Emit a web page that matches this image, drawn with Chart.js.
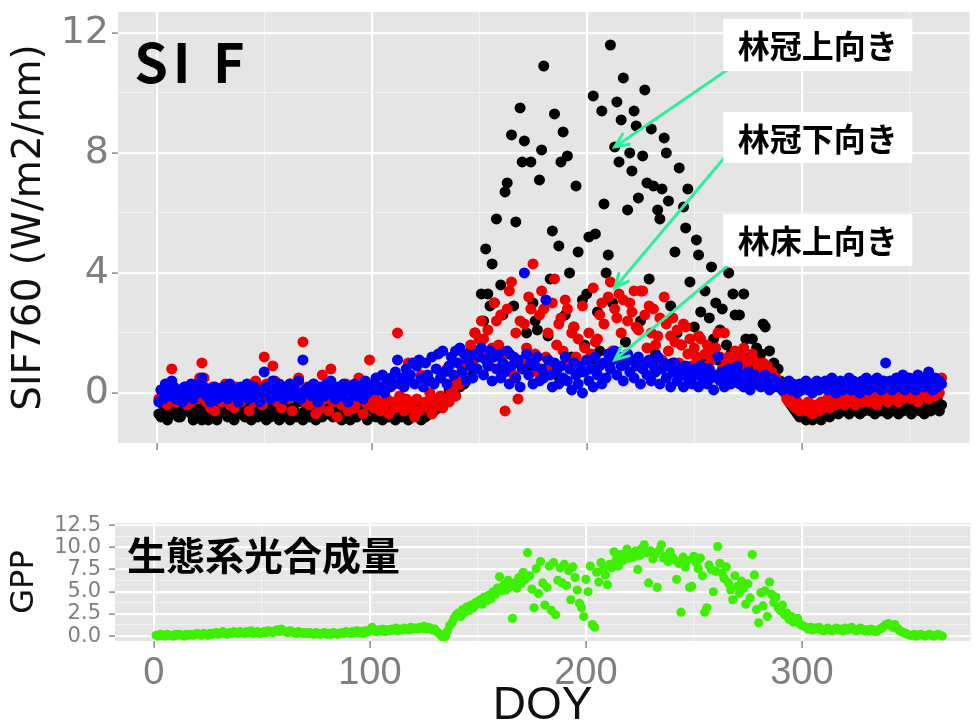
<!DOCTYPE html>
<html lang="ja">
<head>
<meta charset="UTF-8">
<title>SIF760 and GPP by DOY</title>
<script src="https://cdn.jsdelivr.net/npm/chart.js@4.4.1/dist/chart.umd.min.js"></script>
<style>
  html, body { margin: 0; padding: 0; background: #fff; width: 975px; height: 721px; overflow: hidden; }
  canvas { position: absolute; left: 0; }
  #sifChart { top: 0; }
  #gppChart { top: 500px; }
</style>
</head>
<body>
<canvas id="sifChart" width="975" height="455"></canvas>
<canvas id="gppChart" width="975" height="240"></canvas>
<script>
// day of year, one value per day in every series below
const doy = [
  1,2,3,4,5,6,7,8,9,10,11,12,13,14,15,16,17,18,19,20,
  21,22,23,24,25,26,27,28,29,30,31,32,33,34,35,36,37,38,39,40,
  41,42,43,44,45,46,47,48,49,50,51,52,53,54,55,56,57,58,59,60,
  61,62,63,64,65,66,67,68,69,70,71,72,73,74,75,76,77,78,79,80,
  81,82,83,84,85,86,87,88,89,90,91,92,93,94,95,96,97,98,99,100,
  101,102,103,104,105,106,107,108,109,110,111,112,113,114,115,116,117,118,119,120,
  121,122,123,124,125,126,127,128,129,130,131,132,133,134,135,136,137,138,139,140,
  141,142,143,144,145,146,147,148,149,150,151,152,153,154,155,156,157,158,159,160,
  161,162,163,164,165,166,167,168,169,170,171,172,173,174,175,176,177,178,179,180,
  181,182,183,184,185,186,187,188,189,190,191,192,193,194,195,196,197,198,199,200,
  201,202,203,204,205,206,207,208,209,210,211,212,213,214,215,216,217,218,219,220,
  221,222,223,224,225,226,227,228,229,230,231,232,233,234,235,236,237,238,239,240,
  241,242,243,244,245,246,247,248,249,250,251,252,253,254,255,256,257,258,259,260,
  261,262,263,264,265,266,267,268,269,270,271,272,273,274,275,276,277,278,279,280,
  281,282,283,284,285,286,287,288,289,290,291,292,293,294,295,296,297,298,299,300,
  301,302,303,304,305,306,307,308,309,310,311,312,313,314,315,316,317,318,319,320,
  321,322,323,324,325,326,327,328,329,330,331,332,333,334,335,336,337,338,339,340,
  341,342,343,344,345,346,347,348,349,350,351,352,353,354,355,356,357,358,359,360,
  361,362,363,364,365
];

// SIF760, canopy looking up (black)
const sifCanopyUp = [
  -0.7,-0.8,-0.4,-0.6,-0.9,-0.5,-0.3,-0.7,-0.6,-0.8,
  -0.8,-0.4,-0.6,-0.3,-0.5,-0.7,-0.9,-0.6,-0.4,-0.8,
  -0.9,-0.6,-0.5,-0.9,-0.7,-0.4,-0.8,-0.9,-0.6,-0.3,
  -0.5,-0.7,-0.8,-0.4,-0.6,-0.9,-0.5,-0.7,-0.3,-0.6,
  -0.8,-0.5,-0.7,-0.9,-0.4,-0.6,-0.8,-0.5,-0.3,-0.7,
  -0.9,-0.6,-0.8,-0.4,-0.7,-0.5,-0.9,-0.6,-0.8,-0.4,
  -0.7,-0.9,-0.5,-0.6,-0.8,-0.3,-0.7,-0.9,-0.6,-0.5,
  -0.8,-0.4,-0.6,-0.9,-0.7,-0.5,-0.8,-0.6,-0.4,-0.7,
  -0.5,-0.8,-0.6,-0.3,-0.7,-0.9,-0.5,-0.6,-0.8,-0.9,
  -0.4,-0.6,-0.8,-0.5,-0.7,-0.3,-0.6,-0.9,-0.5,-0.4,
  -0.6,-0.8,-0.5,-0.7,-0.9,-0.4,-0.6,-0.8,-0.5,-0.7,
  -0.9,-0.6,-0.4,-0.8,-0.7,-0.5,-0.9,-0.6,-0.8,-0.4,
  -0.7,-0.5,-0.9,-0.6,-0.8,-0.4,-0.7,-0.5,-0.6,-0.3,
  -0.5,-0.4,-0.2,-0.3,-0.1,0.1,0.0,0.3,-0.1,0.4,
  0.2,0.6,0.3,1.0,0.5,1.4,0.8,2.0,1.2,1.8,
  3.3,2.4,4.8,3.3,2.9,4.3,3.0,5.8,1.5,3.6,
  2.6,6.7,7.0,1.3,8.6,2.9,5.7,1.0,9.5,7.7,
  8.4,2.0,0.9,7.7,3.0,2.4,2.1,7.1,8.1,10.9,
  0.8,1.9,3.8,5.4,9.3,0.6,4.9,7.7,8.7,2.6,
  7.9,4.0,1.2,2.2,6.9,4.7,0.7,3.1,1.6,3.3,
  5.2,1.1,9.9,5.3,2.7,1.4,9.4,6.3,4.0,4.6,
  11.6,3.0,8.2,9.7,7.7,9.1,10.5,1.7,6.1,8.0,
  7.4,9.4,8.9,6.5,2.4,7.9,10.1,7.0,3.8,8.8,
  6.9,1.3,6.1,5.8,6.8,8.5,8.0,6.4,2.9,1.0,
  4.7,2.0,7.5,1.6,6.2,5.5,6.8,3.7,0.9,2.2,
  5.1,4.6,2.7,1.2,3.4,0.8,2.5,4.2,1.8,3.0,
  1.1,2.1,2.8,0.9,1.6,4.0,1.3,3.3,2.6,0.7,
  2.6,1.0,3.3,1.8,0.8,1.2,1.8,0.6,1.5,0.9,
  1.3,2.3,2.2,0.5,1.4,0.7,1.0,0.3,0.8,0.4,
  0.2,0.3,0.0,-0.2,-0.4,-0.5,-0.6,-0.7,-0.8,-0.6,
  -0.8,-0.9,-0.7,-0.8,-0.9,-0.6,-0.8,-0.7,-0.9,-0.5,
  -0.7,-0.6,-0.8,-0.4,-0.6,-0.5,-0.7,-0.3,-0.6,-0.5,
  -0.4,-0.7,-0.5,-0.6,-0.3,-0.5,-0.7,-0.4,-0.6,-0.5,
  -0.3,-0.6,-0.4,-0.7,-0.5,-0.3,-0.6,-0.4,-0.5,-0.7,
  -0.4,-0.6,-0.3,-0.5,-0.7,-0.4,-0.6,-0.5,-0.3,-0.6,
  -0.7,-0.4,-0.5,-0.3,-0.6,-0.4,-0.7,-0.5,-0.3,-0.6,
  -0.4,-0.5,-0.2,-0.6,-0.4
];

// SIF760, canopy looking down (red)
const sifCanopyDown = [
  -0.2,0.1,-0.3,0.0,-0.4,0.2,0.8,-0.1,-0.3,0.1,
  0.0,-0.2,0.2,-0.4,0.1,-0.3,0.0,0.3,-0.2,0.5,
  1.0,0.5,-0.3,0.0,-0.5,0.2,-0.6,-0.1,0.1,-0.3,
  0.0,0.3,-0.2,-0.4,0.1,-0.5,0.2,-0.1,-0.3,0.0,
  -0.2,0.2,-0.6,0.0,-0.3,0.4,-0.1,0.2,-0.4,1.2,
  0.3,-0.2,0.0,0.9,0.4,-0.3,0.1,-0.5,0.2,0.0,
  -0.2,0.3,-0.6,0.1,-0.1,0.5,0.0,1.7,-0.3,0.2,
  -0.4,-0.1,0.3,-0.7,0.0,-0.5,0.6,-0.2,0.1,-0.6,
  0.8,-0.3,0.0,-0.8,0.2,-0.4,-0.1,0.3,-0.6,-0.2,
  0.1,-0.5,-0.3,0.5,-0.1,-0.7,0.2,-0.4,1.1,-0.2,
  -0.5,0.0,-0.3,-0.6,0.1,-0.4,-0.2,-0.7,0.2,-0.3,
  -0.5,2.0,-0.1,-0.4,-0.6,-0.2,1.0,-0.5,-0.3,-0.8,
  -0.2,-0.6,0.6,-0.4,-0.3,-0.5,0.0,-0.7,-0.2,-0.4,
  -0.3,-0.1,-0.5,-0.2,0.8,-0.3,0.0,0.2,-0.1,0.4,
  0.3,0.8,0.5,1.2,0.9,1.6,1.0,2.0,1.4,1.8,
  2.4,1.8,1.2,2.1,0.9,1.5,3.0,2.4,1.6,2.6,
  1.3,-0.6,2.8,3.4,3.7,0.6,2.0,-0.2,2.4,1.1,
  2.3,1.5,3.2,2.8,4.3,1.3,0.7,2.6,3.4,2.8,
  1.2,2.0,0.9,3.0,3.8,1.6,2.3,2.5,1.4,3.1,
  2.8,1.0,2.0,2.2,1.2,1.8,0.8,2.9,1.5,1.1,
  2.0,1.3,3.5,1.7,1.8,2.6,3.0,2.3,1.0,3.2,
  3.7,1.4,2.8,2.5,3.3,2.0,3.1,1.2,2.4,3.0,
  2.7,3.4,2.2,2.1,3.4,3.4,2.6,1.5,2.9,2.0,
  2.8,1.6,1.9,2.5,1.1,3.2,2.3,1.4,1.9,2.5,
  1.7,2.1,1.0,1.6,2.3,2.2,1.3,1.8,0.9,1.5,
  1.2,1.9,1.8,0.9,1.3,1.6,0.7,1.1,1.4,1.5,
  2.0,1.2,0.8,2.0,1.0,1.2,0.6,0.9,1.4,1.1,
  0.7,1.2,1.5,0.9,0.5,1.1,1.3,0.6,1.0,0.8,
  0.4,1.0,0.6,0.9,0.3,0.7,0.4,0.5,0.2,0.3,
  0.1,0.0,-0.2,-0.3,-0.1,-0.4,-0.5,-0.3,-0.6,-0.5,
  -0.4,-0.6,-0.3,-0.5,-0.7,-0.4,-0.5,-0.6,-0.3,-0.5,
  -0.4,-0.2,-0.5,-0.3,-0.1,-0.4,0.0,-0.3,-0.2,-0.4,
  -0.1,-0.3,0.1,-0.2,-0.4,0.0,-0.2,-0.3,0.2,-0.1,
  -0.3,0.0,-0.2,0.1,-0.4,-0.1,0.2,-0.2,0.0,-0.3,
  0.1,-0.2,-0.1,0.3,-0.3,0.0,-0.2,0.2,-0.1,0.1,
  -0.2,0.3,0.0,-0.3,0.1,-0.1,0.2,0.0,-0.2,0.4,
  0.1,-0.1,0.3,0.0,0.5
];

// SIF760, forest floor looking up (blue)
const sifFloorUp = [
  -0.3,0.1,-0.2,0.3,0.0,-0.1,0.4,0.2,-0.2,0.0,
  0.1,-0.3,0.2,0.0,-0.1,0.3,-0.2,0.1,0.0,0.3,
  0.5,0.2,-0.1,0.1,-0.3,0.0,0.2,-0.2,0.1,-0.1,
  0.2,0.0,-0.2,0.3,0.1,-0.1,0.0,-0.3,0.2,-0.1,
  0.1,0.3,-0.2,0.0,0.2,-0.1,0.1,-0.3,0.0,0.7,
  0.2,0.0,-0.2,0.4,0.1,-0.1,0.3,0.0,-0.2,0.2,
  0.0,0.3,-0.1,0.2,0.0,0.4,-0.2,1.1,0.1,0.0,
  0.2,-0.1,0.3,0.0,-0.3,0.2,0.1,-0.1,0.3,0.0,
  0.4,0.1,-0.2,0.2,0.0,-0.1,0.3,0.1,-0.3,0.2,
  0.0,0.3,-0.1,0.2,0.1,-0.2,0.4,0.0,0.2,0.1,
  0.3,0.5,0.1,0.2,0.6,0.0,0.4,0.2,0.5,0.3,
  0.7,1.1,0.3,0.5,0.2,0.8,0.4,0.6,1.0,0.3,
  0.9,1.1,0.5,0.2,1.0,0.6,0.4,1.2,0.3,0.8,
  1.3,0.5,1.4,0.7,0.3,0.9,1.2,0.6,1.4,1.0,
  1.5,0.7,1.3,0.4,1.1,0.9,0.5,1.3,0.8,1.2,
  1.5,0.6,1.1,0.9,1.4,0.4,1.2,0.8,1.3,0.5,
  1.0,0.7,1.4,0.3,0.9,1.2,0.5,1.1,0.2,0.8,
  4.0,1.3,0.6,1.0,0.3,0.9,1.2,0.4,0.8,0.5,
  3.1,1.1,0.6,0.2,1.0,0.7,0.3,0.9,0.5,1.2,
  0.4,0.8,0.1,1.0,0.6,0.3,0.9,0.0,0.7,1.1,
  0.4,0.8,0.2,1.2,0.6,0.9,0.3,1.0,0.5,1.3,
  0.8,1.1,1.4,0.6,1.2,0.9,0.4,1.0,1.3,0.7,
  1.1,0.5,0.9,1.2,0.3,0.8,1.0,0.6,1.1,0.4,
  0.9,0.7,1.2,0.3,0.8,1.0,0.5,0.9,0.2,0.7,
  1.0,0.4,0.8,0.6,0.2,0.9,0.5,0.7,0.3,0.8,
  0.6,0.2,0.9,0.4,0.7,0.3,0.8,0.5,0.1,0.6,
  1.2,0.4,0.7,0.2,0.5,0.8,0.3,0.6,0.4,0.9,
  0.3,0.6,0.2,0.5,0.7,0.1,0.4,0.6,0.3,0.5,
  0.2,0.4,0.6,0.3,0.1,0.5,0.2,0.4,0.3,0.2,
  0.1,0.3,0.2,0.4,0.1,0.3,0.2,0.0,0.3,0.1,
  0.2,0.4,0.1,0.3,0.0,0.2,0.4,0.1,0.3,0.2,
  0.4,0.1,0.3,0.5,0.2,0.0,0.3,0.4,0.1,0.2,
  0.3,0.5,0.1,0.4,0.2,0.3,0.0,0.4,0.2,0.5,
  0.1,0.3,0.4,0.2,0.5,0.3,0.1,0.4,1.0,0.2,
  0.4,0.1,0.3,0.5,0.2,0.4,0.6,0.1,0.3,0.5,
  0.2,0.4,0.1,0.6,0.3,0.5,0.2,0.4,0.7,0.3,
  0.1,0.5,0.2,0.4,0.3
];

// ecosystem GPP (green)
const gpp = [
  0.1,0.0,0.2,0.1,0.0,0.2,0.1,0.1,0.0,0.2,
  0.1,0.2,0.1,0.0,0.2,0.1,0.2,0.1,0.2,0.3,
  0.2,0.1,0.3,0.2,0.1,0.3,0.2,0.3,0.4,0.2,
  0.3,0.5,0.3,0.2,0.4,0.3,0.5,0.4,0.3,0.5,
  0.4,0.3,0.5,0.4,0.6,0.3,0.4,0.5,0.3,0.4,
  0.5,0.4,0.6,0.5,0.4,0.6,0.7,0.5,0.8,0.6,
  0.5,0.4,0.6,0.5,0.4,0.3,0.5,0.4,0.3,0.4,
  0.3,0.4,0.3,0.2,0.4,0.3,0.2,0.3,0.4,0.2,
  0.3,0.2,0.4,0.3,0.2,0.3,0.4,0.3,0.5,0.4,
  0.3,0.5,0.4,0.6,0.4,0.5,0.3,0.6,0.5,0.7,
  1.0,0.6,0.5,0.7,0.6,0.8,0.5,0.7,0.6,0.8,
  0.7,0.9,0.6,0.8,0.7,0.9,0.8,0.7,1.0,0.8,
  0.9,0.8,1.0,0.9,1.1,0.8,1.0,0.9,0.7,0.8,
  0.5,0.3,0.1,-0.2,0.0,0.6,1.2,1.5,2.0,2.4,
  2.6,2.2,3.0,2.7,3.3,2.9,3.5,3.2,3.8,3.7,
  4.1,3.6,4.4,4.0,4.6,4.2,5.0,4.7,5.4,6.7,
  5.1,5.8,5.2,6.3,5.6,2.0,6.0,5.4,6.6,5.9,
  7.2,6.4,9.4,6.8,5.3,3.2,7.6,4.8,8.4,6.0,
  3.5,5.5,7.9,2.9,8.3,2.4,6.3,7.7,6.0,8.1,
  5.7,7.4,4.1,7.8,6.6,5.2,3.7,3.2,2.2,6.4,
  5.0,7.9,1.3,1.0,7.2,6.1,8.3,7.5,6.9,5.8,
  8.1,7.7,9.5,8.6,7.9,9.2,8.5,9.0,9.8,8.8,
  9.3,8.9,9.6,7.5,9.1,9.9,10.3,9.4,6.0,9.6,
  8.7,9.2,5.5,9.7,10.3,8.8,9.0,8.4,9.5,8.9,
  8.6,6.4,8.2,2.7,8.9,7.8,8.5,5.5,5.6,9.0,
  8.3,7.6,8.8,6.8,2.7,3.2,8.0,7.5,5.0,7.3,
  10.1,8.2,7.1,6.5,7.8,6.0,5.2,4.1,6.8,5.6,
  4.8,6.2,5.4,3.6,5.9,4.3,9.2,6.9,3.0,1.5,
  4.9,3.4,5.1,2.2,6.1,4.7,3.8,4.4,3.2,2.9,
  3.5,2.4,2.6,1.9,2.2,1.6,1.8,2.0,1.4,1.2,
  1.1,1.0,0.8,1.0,0.7,0.9,0.8,1.0,0.7,0.6,
  0.8,0.9,0.7,0.6,0.8,0.9,0.7,0.8,0.6,0.9,
  0.7,0.8,1.0,0.8,0.6,0.7,0.9,0.8,0.6,0.7,
  0.6,0.8,0.7,0.5,0.6,0.8,0.9,1.1,1.3,1.4,
  1.2,1.0,1.3,0.9,0.7,0.5,0.4,0.3,0.2,0.1,
  0.1,0.2,0.0,0.1,0.2,0.1,0.0,0.1,0.2,0.1,
  0.0,0.1,0.2,0.1,0.0
];

// axes: grid positions (major + minor) and the ones that get a label / tick mark
const doyGrid = [0, 50, 100, 150, 200, 250, 300, 350];
const doyLabels = [0, 100, 200, 300];
const sifGrid = [0, 2, 4, 6, 8, 10, 12];
const sifLabels = [0, 4, 8, 12];
const gppGrid = [0, 1.25, 2.5, 3.75, 5, 6.25, 7.5, 8.75, 10, 11.25, 12.5];
const gppLabels = [0, 2.5, 5, 7.5, 10, 12.5];

const toPoints = ys => ys.map((v, i) => ({x: doy[i], y: v}));

const GREY_TXT = '#7f7f7f';
const isIn = (list, v) => list.some(t => Math.abs(t - v) < 1e-6);

// ggplot style panel background
const panelBg = {
  id: 'panelBg',
  beforeDraw(chart) {
    const {ctx, chartArea: a} = chart;
    ctx.save();
    ctx.fillStyle = '#e5e5e5';
    ctx.fillRect(a.left, a.top, a.right - a.left, a.bottom - a.top);
    ctx.restore();
  }
};

function gridOpts(majors, tickLength) {
  return {
    color: c => isIn(majors, c.tick.value) ? '#ffffff' : '#f1f1f1',
    lineWidth: c => isIn(majors, c.tick.value) ? 2.2 : 1.1,
    tickColor: c => isIn(majors, c.tick.value) ? '#8a8a8a' : 'rgba(0,0,0,0)',
    tickWidth: 1.5,
    tickLength: tickLength
  };
}

function drawArrow(ctx, x0, y0, x1, y1) {
  const ang = Math.atan2(y1 - y0, x1 - x0);
  const head = 15, spread = 0.42;
  ctx.beginPath();
  ctx.moveTo(x0, y0);
  ctx.lineTo(x1, y1);
  ctx.moveTo(x1 - head * Math.cos(ang - spread), y1 - head * Math.sin(ang - spread));
  ctx.lineTo(x1, y1);
  ctx.lineTo(x1 - head * Math.cos(ang + spread), y1 - head * Math.sin(ang + spread));
  ctx.stroke();
}

// callouts, given in data units (DOY, SIF)
const callouts = [
  {text: '林冠上向き', box: [263.5, 351.4, 12.47, 10.73], from: [268, 10.9], to: [213, 8.2]},
  {text: '林冠下向き', box: [263.5, 351.4, 9.37, 7.67], from: [263.5, 7.8], to: [213, 3.5]},
  {text: '林床上向き', box: [263.5, 351.4, 5.97, 4.23], from: [265, 4.2], to: [213, 1.1]}
];

const sifNotes = {
  id: 'sifNotes',
  afterDraw(chart) {
    const {ctx, scales: {x, y}} = chart;
    ctx.save();
    ctx.fillStyle = '#000';
    ctx.font = "bold 54px 'Noto Sans CJK JP'";
    ctx.textBaseline = 'alphabetic';
    ctx.textAlign = 'left';
    ctx.letterSpacing = '5px';
    ctx.fillText('SI F', x.getPixelForValue(-10.5), y.getPixelForValue(10.33));
    ctx.letterSpacing = '0px';

    ctx.strokeStyle = '#2fee9e';
    ctx.lineWidth = 3;
    ctx.lineCap = 'round';
    callouts.forEach(c => {
      drawArrow(ctx, x.getPixelForValue(c.from[0]), y.getPixelForValue(c.from[1]),
        x.getPixelForValue(c.to[0]), y.getPixelForValue(c.to[1]));
    });
    callouts.forEach(c => {
      const l = x.getPixelForValue(c.box[0]), r = x.getPixelForValue(c.box[1]);
      const t = y.getPixelForValue(c.box[2]), b = y.getPixelForValue(c.box[3]);
      ctx.fillStyle = '#ffffff';
      ctx.fillRect(l, t, r - l, b - t);
      ctx.fillStyle = '#000';
      ctx.font = "bold 32px 'Noto Sans CJK JP'";
      ctx.textAlign = 'center';
      ctx.textBaseline = 'middle';
      ctx.fillText(c.text, (l + r) / 2, (t + b) / 2 + 1);
    });
    ctx.restore();
  }
};

const gppNotes = {
  id: 'gppNotes',
  afterDraw(chart) {
    const {ctx, scales: {x, y}} = chart;
    ctx.save();
    ctx.fillStyle = '#000';
    ctx.font = "bold 39px 'Noto Sans CJK JP'";
    ctx.textAlign = 'left';
    ctx.textBaseline = 'middle';
    ctx.fillText('生態系光合成量', x.getPixelForValue(-12.5), y.getPixelForValue(9.1));
    ctx.restore();
  }
};

const pointStyle = (color, r) => ({
  backgroundColor: color,
  borderWidth: 0,
  pointRadius: r,
  pointHoverRadius: r
});

new Chart(document.getElementById('sifChart'), {
  type: 'scatter',
  data: {
    datasets: [
      {label: '林冠上向き', data: toPoints(sifCanopyUp), order: 3, ...pointStyle('#000000', 5.5)},
      {label: '林冠下向き', data: toPoints(sifCanopyDown), order: 2, ...pointStyle('#f20000', 5.5)},
      {label: '林床上向き', data: toPoints(sifFloorUp), order: 1, ...pointStyle('#0000f5', 5.5)}
    ]
  },
  options: {
    responsive: false,
    animation: false,
    layout: {padding: {top: 12, bottom: 5, left: 0, right: 0}},
    plugins: {legend: {display: false}, tooltip: {enabled: false}},
    scales: {
      x: {
        type: 'linear', min: -18, max: 378,
        afterBuildTicks: axis => { axis.ticks = doyGrid.map(v => ({value: v})); },
        afterFit: axis => { axis.paddingLeft = 0; axis.paddingRight = 0; },
        ticks: {display: false},
        grid: gridOpts(doyLabels, 7),
        border: {display: false}
      },
      y: {
        min: -1.67, max: 12.7,
        afterBuildTicks: axis => { axis.ticks = sifGrid.map(v => ({value: v})); },
        afterFit: axis => { axis.width = 118; axis.paddingTop = 0; axis.paddingBottom = 0; },
        ticks: {
          color: GREY_TXT, padding: 3, autoSkip: false,
          font: {family: "'DejaVu Sans'", size: 38},
          callback: v => isIn(sifLabels, v) ? String(v) : ''
        },
        grid: gridOpts(sifLabels, 6),
        border: {display: false},
        title: {
          display: true, text: 'SIF760 (W/m2/nm)', color: '#111',
          font: {family: "'DejaVu Sans'", size: 39}, padding: {top: 6, bottom: 0}
        }
      }
    }
  },
  plugins: [panelBg, sifNotes]
});

new Chart(document.getElementById('gppChart'), {
  type: 'scatter',
  data: {
    datasets: [
      {label: 'GPP', data: toPoints(gpp), ...pointStyle('#3cf000', 4.6)}
    ]
  },
  options: {
    responsive: false,
    animation: false,
    layout: {padding: {top: 23, bottom: 0, left: 0, right: 0}},
    plugins: {legend: {display: false}, tooltip: {enabled: false}},
    scales: {
      x: {
        type: 'linear', min: -18, max: 378,
        afterBuildTicks: axis => { axis.ticks = doyGrid.map(v => ({value: v})); },
        afterFit: axis => { axis.height = 99; axis.paddingLeft = 0; axis.paddingRight = 0; },
        ticks: {
          color: GREY_TXT, padding: 3, autoSkip: false, maxRotation: 0,
          font: {family: "'Liberation Sans Narrow', 'Liberation Sans'", size: 38},
          callback: v => isIn(doyLabels, v) ? String(v) : ''
        },
        grid: gridOpts(doyLabels, 7),
        border: {display: false},
        title: {
          display: true, text: 'DOY', color: '#111',
          font: {family: "'Liberation Sans'", size: 46}, padding: {top: 0, bottom: 6}
        }
      },
      y: {
        min: -0.55, max: 12.75,
        afterBuildTicks: axis => { axis.ticks = gppGrid.map(v => ({value: v})); },
        afterFit: axis => { axis.width = 115; axis.paddingTop = 0; axis.paddingBottom = 0; },
        ticks: {
          color: GREY_TXT, padding: 8, autoSkip: false,
          font: {family: "'DejaVu Sans'", size: 21},
          callback: v => isIn(gppLabels, v) ? v.toFixed(1) : ''
        },
        grid: gridOpts(gppLabels, 6),
        border: {display: false},
        title: {
          display: true, text: 'GPP', color: '#111',
          font: {family: "'DejaVu Sans'", size: 32}, padding: {top: 5, bottom: 0}
        }
      }
    }
  },
  plugins: [panelBg, gppNotes]
});
</script>
</body>
</html>
